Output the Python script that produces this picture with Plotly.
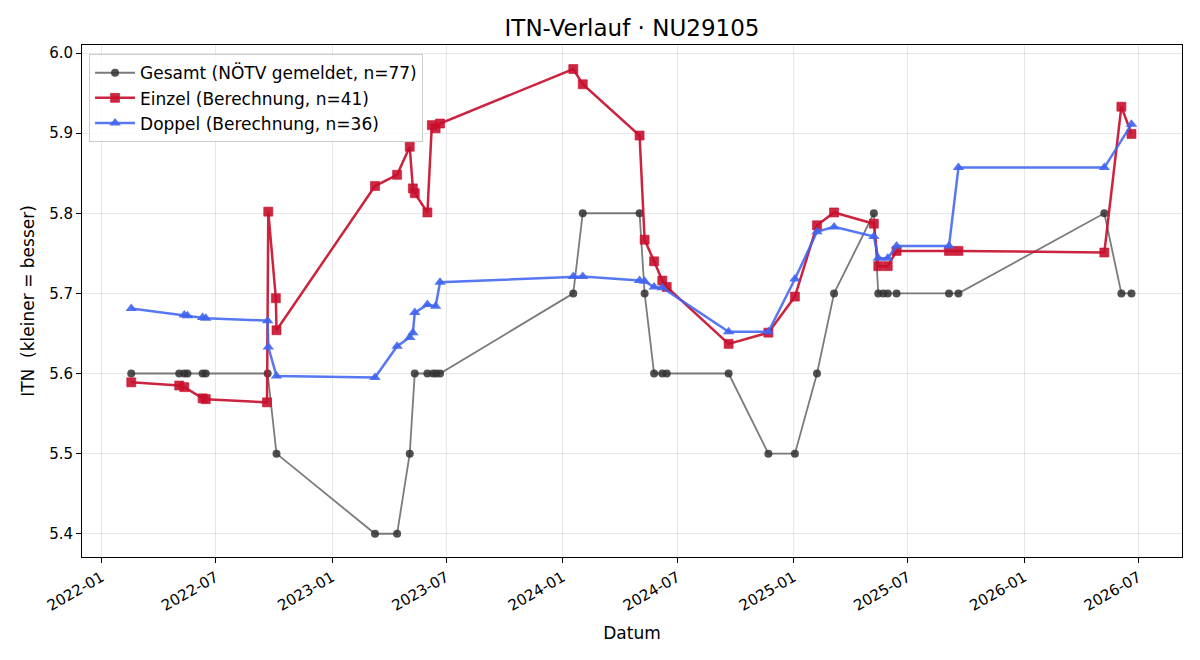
import plotly.graph_objects as go

gesamt_dates = ["2022-02-17", "2022-05-04", "2022-05-12", "2022-05-17", "2022-06-10", "2022-06-15",
                "2022-09-21", "2022-10-05", "2023-03-10", "2023-04-14", "2023-05-04", "2023-05-12",
                "2023-06-01", "2023-06-10", "2023-06-15", "2023-06-21", "2024-01-18", "2024-02-02",
                "2024-05-02", "2024-05-10", "2024-05-25", "2024-06-07", "2024-06-14", "2024-09-20",
                "2024-11-22", "2025-01-03", "2025-02-07", "2025-03-06", "2025-05-08", "2025-05-15",
                "2025-05-23", "2025-05-30", "2025-06-13", "2025-09-04", "2025-09-19", "2026-05-08",
                "2026-06-04", "2026-06-20"]
gesamt_vals = [5.6, 5.6, 5.6, 5.6, 5.6, 5.6,
               5.6, 5.5, 5.4, 5.4, 5.5, 5.6,
               5.6, 5.6, 5.6, 5.6, 5.7, 5.8,
               5.8, 5.7, 5.6, 5.6, 5.6, 5.6,
               5.5, 5.5, 5.6, 5.7, 5.8, 5.7,
               5.7, 5.7, 5.7, 5.7, 5.7, 5.8,
               5.7, 5.7]

einzel_dates = ["2022-02-17", "2022-05-04", "2022-05-12", "2022-06-10", "2022-06-15", "2022-09-20",
                "2022-09-22", "2022-10-04", "2022-10-05", "2023-03-10", "2023-04-14", "2023-05-04",
                "2023-05-09", "2023-05-12", "2023-06-01", "2023-06-08", "2023-06-14", "2023-06-21",
                "2024-01-18", "2024-02-02", "2024-05-02", "2024-05-10", "2024-05-25", "2024-06-07",
                "2024-06-14", "2024-09-20", "2024-11-22", "2025-01-03", "2025-02-07", "2025-03-06",
                "2025-05-08", "2025-05-15", "2025-05-30", "2025-06-13", "2025-09-04", "2025-09-19",
                "2026-05-08", "2026-06-04", "2026-06-20"]
einzel_vals = [5.589, 5.585, 5.583, 5.569, 5.568, 5.564,
               5.802, 5.694, 5.654, 5.834, 5.848, 5.883,
               5.831, 5.825, 5.801, 5.910, 5.906, 5.912,
               5.980, 5.961, 5.897, 5.767, 5.740, 5.716,
               5.708, 5.637, 5.651, 5.696, 5.785, 5.801,
               5.787, 5.734, 5.734, 5.753, 5.753, 5.753,
               5.751, 5.933, 5.899]

doppel_dates = ["2022-02-17", "2022-05-12", "2022-05-17", "2022-06-10", "2022-06-15", "2022-09-21",
                "2022-09-22", "2022-10-05", "2023-03-10", "2023-04-14", "2023-05-04", "2023-05-09",
                "2023-05-12", "2023-06-01", "2023-06-14", "2023-06-21", "2024-01-18", "2024-02-02",
                "2024-05-02", "2024-05-10", "2024-05-25", "2024-06-07", "2024-09-20", "2024-11-22",
                "2025-01-03", "2025-02-07", "2025-03-06", "2025-05-08", "2025-05-15", "2025-05-30",
                "2025-06-13", "2025-09-04", "2025-09-19", "2026-05-08", "2026-06-20"]
doppel_vals = [5.681, 5.673, 5.672, 5.670, 5.669, 5.666,
               5.633, 5.597, 5.595, 5.634, 5.645, 5.651,
               5.676, 5.686, 5.684, 5.714, 5.721, 5.721,
               5.716, 5.715, 5.708, 5.707, 5.652, 5.652,
               5.718, 5.777, 5.783, 5.771, 5.744, 5.744,
               5.759, 5.759, 5.857, 5.857, 5.911]

FONT = "DejaVu Sans"

fig = go.Figure()
fig.add_trace(go.Scatter(
    x=gesamt_dates, y=gesamt_vals, mode="lines+markers",
    name="Gesamt (NÖTV gemeldet, n=77)",
    line=dict(color="rgba(90,90,90,0.8)", width=1.8),
    marker=dict(symbol="circle", size=8, color="rgba(50,50,50,0.85)", line=dict(width=0)),
))
fig.add_trace(go.Scatter(
    x=einzel_dates, y=einzel_vals, mode="lines+markers",
    name="Einzel (Berechnung, n=41)",
    line=dict(color="rgba(200,16,46,0.92)", width=2.5),
    marker=dict(symbol="square", size=9, color="rgba(200,16,46,0.9)",
                line=dict(width=1, color="rgba(200,16,46,0.6)")),
))
fig.add_trace(go.Scatter(
    x=doppel_dates, y=doppel_vals, mode="lines+markers",
    name="Doppel (Berechnung, n=36)",
    line=dict(color="rgba(65,100,240,0.88)", width=2.5),
    marker=dict(symbol="triangle-up", size=10, color="rgba(65,100,240,0.9)", line=dict(width=0)),
))

fig.update_layout(
    width=1200, height=660,
    margin=dict(l=82, r=18, t=45, b=103),
    paper_bgcolor="white", plot_bgcolor="white",
    font=dict(family=FONT, size=15, color="black"),
    title=dict(text="ITN-Verlauf · NU29105", xref="paper", x=0.5, xanchor="center",
               y=0.957, yanchor="middle",
               font=dict(family=FONT, size=23, color="black")),
    legend=dict(x=0.0064, y=0.982, xanchor="left", yanchor="top",
                bgcolor="rgba(255,255,255,0.8)", bordercolor="#cccccc", borderwidth=1,
                font=dict(family=FONT, size=17), tracegroupgap=0, itemwidth=40),
    showlegend=True,
)
fig.update_xaxes(
    type="date", range=["2021-12-01", "2026-09-08"],
    tick0="2022-01-01", dtick="M6", tickformat="%Y-%m", tickangle=-30,
    ticks="outside", ticklen=5, tickcolor="black", tickwidth=1,
    showline=True, linecolor="black", linewidth=1, mirror=True,
    showgrid=True, gridcolor="rgba(0,0,0,0.09)", gridwidth=1,
    zeroline=False,
    title=dict(text="Datum", font=dict(family=FONT, size=17), standoff=13),
    tickfont=dict(family=FONT, size=15),
)
fig.update_yaxes(
    range=[5.371, 6.01], tick0=5.4, dtick=0.1, tickformat=".1f",
    ticks="outside", ticklen=5, tickcolor="black", tickwidth=1,
    showline=True, linecolor="black", linewidth=1, mirror=True,
    showgrid=True, gridcolor="rgba(0,0,0,0.09)", gridwidth=1,
    zeroline=False,
    title=dict(text="ITN \u00a0(kleiner = besser)", font=dict(family=FONT, size=17), standoff=10),
    tickfont=dict(family=FONT, size=15),
)

fig.write_html("out.html")
